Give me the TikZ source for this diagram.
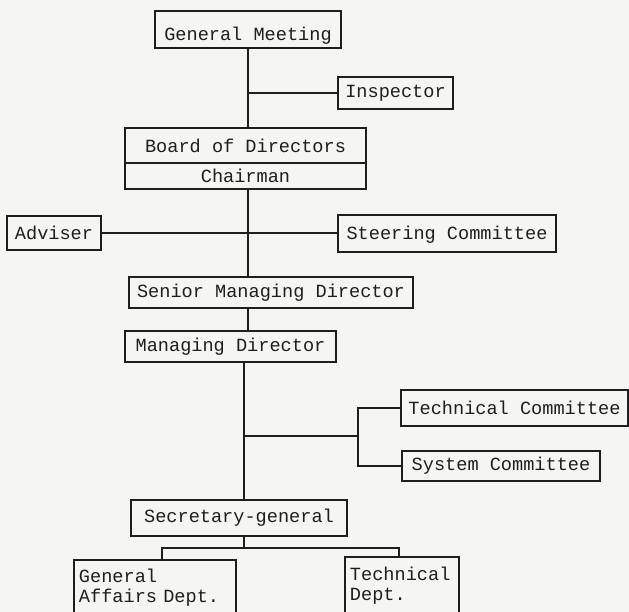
\documentclass[tikz,border=0pt]{standalone}
\usepackage{fontspec}
\setmonofont{Liberation Mono}
\definecolor{ink}{HTML}{1E1E1E}
\definecolor{paper}{HTML}{F5F5F3}
\begin{document}
\begin{tikzpicture}[x=0.5pt,y=-0.5pt,
  box/.style={draw=ink, text=ink, line width=1pt, inner sep=0pt, rectangle,
    font=\ttfamily\fontsize{9.3}{10}\selectfont},
  twoline/.style={box, align=left, inner xsep=2.5pt},
  link/.style={draw=ink, line width=1pt}]
\useasboundingbox (0,0) rectangle (629,612);
\fill[paper] (0,0) rectangle (629,612);
\clip (0,0) rectangle (629,612);
% boxes
\node[box, minimum width=93pt, minimum height=18.5pt] (gm) at (248,29.5) {\rule{0pt}{12.5pt}General Meeting};
\node[box, minimum width=57.5pt, minimum height=16pt] (insp) at (395.5,93) {Inspector};
\node[box, minimum width=120.5pt, minimum height=17.5pt] (board) at (245.5,145.5) {Board of Directors};
\node[box, minimum width=120.5pt, minimum height=13pt] (chair) at (245.5,176) {Chairman};
\node[box, minimum width=47pt, minimum height=17pt] (adv) at (54,233) {Adviser};
\node[box, minimum width=109pt, minimum height=18.5pt] (steer) at (447,233) {\rule{0pt}{8.5pt}Steering Committee};
\node[box, minimum width=142pt, minimum height=15.5pt] (smd) at (271,292.5) {Senior Managing Director};
\node[box, minimum width=105.5pt, minimum height=15.5pt] (md) at (230.5,346.5) {Managing Director};
\node[box, minimum width=113.5pt, minimum height=18pt] (tc) at (514.5,408) {Technical Committee};
\node[box, minimum width=99pt, minimum height=15pt] (sc) at (501,466) {System Committee};
\node[box, minimum width=108pt, minimum height=18pt] (sg) at (239,518) {Secretary-general};
\node[twoline, text width=76pt, minimum height=27.5pt] (ga) at (155,587.5) {General\\Affairs Dept.};
\node[twoline, text width=52pt, minimum height=29pt] (td) at (402,586) {Technical\\Dept.};
% helper coordinates
\coordinate (top) at (248,0);
\coordinate (trunk) at (244,0);
\coordinate (br) at (358,436);
\coordinate (bus) at (244,548);
\coordinate (gaj) at (162,548);
\coordinate (tdj) at (399,548);
% connectors
\draw[link] (gm.south -| top) -- (board.north -| top);
\draw[link] (insp.west -| top) -- (insp.west);
\draw[link] (chair.south -| top) -- (smd.north -| top);
\draw[link] (adv.east) -- (steer.west);
\draw[link] (smd.south -| top) -- (md.north -| top);
\draw[link] (md.south -| trunk) -- (sg.north -| trunk);
\draw[link] (br -| trunk) -- (br);
\draw[link] (tc.west) -| (br) |- (sc.west);
\draw[link] (sg.south -| trunk) -- (bus);
\draw[link] (gaj |- ga.north) -- (gaj) -- (tdj) -- (tdj |- td.north);
\end{tikzpicture}
\end{document}
